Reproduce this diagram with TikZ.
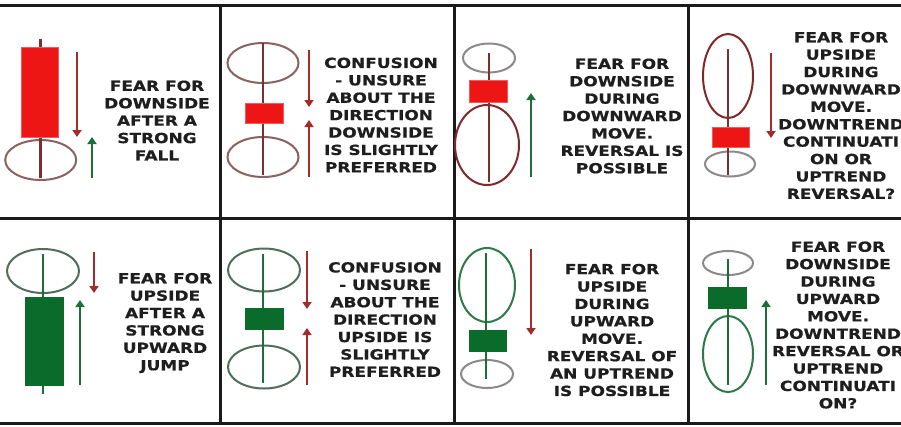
\documentclass[tikz,border=0pt]{standalone}
\usepackage{fontspec}
\newfontfamily\lab{DejaVu Sans}[FakeStretch=1.22, FakeBold=0.6]
\usetikzlibrary{arrows.meta}
\definecolor{gridc}{HTML}{1A1A1A}
\definecolor{redbodyc}{HTML}{EE1515}
\definecolor{rededge}{HTML}{F25A5A}
\definecolor{greenbodyc}{HTML}{0B6B2A}
\definecolor{redwickc}{HTML}{7B3030}
\definecolor{greenwickc}{HTML}{1F6B3A}
\definecolor{ellbrown}{HTML}{8A6262}
\definecolor{elldark}{HTML}{7E2A2A}
\definecolor{ellgray}{HTML}{8E8888}
\definecolor{ellgreen}{HTML}{2E7A48}
\definecolor{ellgreengray}{HTML}{4E6E5A}
\definecolor{arrred}{HTML}{A52A2A}
\definecolor{arrgreen}{HTML}{1E6E38}
\definecolor{txt}{HTML}{1E1E1E}
\tikzset{
  gridline/.style={draw=gridc, line width=3pt},
  redbody/.style={fill=redbodyc, draw=rededge, line width=0.8pt},
  greenbody/.style={fill=greenbodyc, draw=greenbodyc, line width=0.8pt},
  redwick/.style={draw=redwickc, line width=2.8pt},
  greenwick/.style={draw=greenwickc, line width=2.8pt},
  ellline/.style={line width=2pt},
  arrowline/.style={line width=2.6pt, -{Triangle[width=9pt,length=7pt]}},
  arrr/.style={arrowline, draw=arrred, fill=arrred},
  arrg/.style={arrowline, draw=arrgreen, fill=arrgreen},
  label/.style={font=\lab\bfseries\fontsize{13.9}{17.4}\selectfont, align=center, text=txt, inner sep=0pt}
}
\begin{document}
\begin{tikzpicture}[x=1pt, y=-1pt]
\useasboundingbox (0,0) rectangle (901,426);
\fill[white] (0,0) rectangle (901,426);
\clip (0,0) rectangle (901,426);

% grid
\draw[gridline] (0,5) -- (901,5);
\draw[gridline] (0,218) -- (901,218);
\draw[gridline] (0,423) -- (901,423);
\draw[gridline] (220.5,5) -- (220.5,423);
\draw[gridline] (454,5) -- (454,423);
\draw[gridline] (688,5) -- (688,423);

% ---------- cell 1 ----------
\draw[ellline, draw=ellbrown] (40.7,160) ellipse [x radius=35.5, y radius=20];
\draw[redwick] (40.7,39) -- (40.7,178);
\draw[redbody] (21,47) rectangle (58,137);
\coordinate (a1s) at (77,52); \coordinate (a1e) at (77,137);
\draw[arrr] (a1s) -- (a1e);
\coordinate (a2s) at (92,178); \coordinate (a2e) at (92,137);
\draw[arrg] (a2s) -- (a2e);
\node[label] (t1) at (157,120.5) {FEAR FOR\\DOWNSIDE\\AFTER A\\STRONG\\FALL};

% ---------- cell 2 ----------
\draw[ellline, draw=ellbrown] (263,63) ellipse [x radius=35.5, y radius=20];
\draw[ellline, draw=ellbrown] (263,157) ellipse [x radius=35.5, y radius=20];
\draw[redwick] (263,43) -- (263,175);
\draw[redbody] (245,103) rectangle (283,123);
\coordinate (b1s) at (309,50); \coordinate (b1e) at (309,107);
\draw[arrr] (b1s) -- (b1e);
\coordinate (b2s) at (309,177); \coordinate (b2e) at (309,120);
\draw[arrr] (b2s) -- (b2e);
\node[label] (t2) at (381,115) {CONFUSION\\- UNSURE\\ABOUT THE\\DIRECTION\\DOWNSIDE\\IS SLIGHTLY\\PREFERRED};

% ---------- cell 3 ----------
\draw[ellline, draw=ellgray] (489,58) ellipse [x radius=26, y radius=14.5];
\draw[ellline, draw=elldark] (487,145) ellipse [x radius=32, y radius=40];
\draw[redwick] (489,53) -- (489,182);
\draw[redbody] (469,80) rectangle (507,102);
\coordinate (c1s) at (531,177); \coordinate (c1e) at (531,93);
\draw[arrg] (c1s) -- (c1e);
\node[label] (t3) at (622,116) {FEAR FOR\\DOWNSIDE\\DURING\\DOWNWARD\\MOVE.\\REVERSAL IS\\POSSIBLE};

% ---------- cell 4 ----------
\draw[ellline, draw=elldark] (728,76) ellipse [x radius=25, y radius=42];
\draw[ellline, draw=ellgray] (730,164) ellipse [x radius=25, y radius=12.5];
\draw[redwick] (728,49) -- (728,175);
\draw[redbody] (712,127) rectangle (749,147);
\coordinate (d1s) at (771,53); \coordinate (d1e) at (771,138);
\draw[arrr] (d1s) -- (d1e);
\node[label] (t4) at (841,115.5) {FEAR FOR\\UPSIDE\\DURING\\DOWNWARD\\MOVE.\\DOWNTREND\\CONTINUATI\\ON OR\\UPTREND\\REVERSAL?};

% ---------- cell 5 ----------
\draw[ellline, draw=ellgreengray] (43,271) ellipse [x radius=36, y radius=22];
\draw[greenwick] (43,254) -- (43,394);
\draw[greenbody] (25,297) rectangle (63,385);
\coordinate (e1s) at (94,252); \coordinate (e1e) at (94,293);
\draw[arrr] (e1s) -- (e1e);
\coordinate (e2s) at (80,385); \coordinate (e2e) at (80,300);
\draw[arrg] (e2s) -- (e2e);
\node[label] (t5) at (165,323) {FEAR FOR\\UPSIDE\\AFTER A\\STRONG\\UPWARD\\JUMP};

% ---------- cell 6 ----------
\draw[ellline, draw=ellgreengray] (264,270) ellipse [x radius=36, y radius=21.5];
\draw[ellline, draw=ellgreengray] (264,367) ellipse [x radius=36, y radius=21.5];
\draw[greenwick] (263,254) -- (263,383);
\draw[greenbody] (245,308) rectangle (283,329);
\coordinate (f1s) at (307,251); \coordinate (f1e) at (307,309);
\draw[arrr] (f1s) -- (f1e);
\coordinate (f2s) at (307,385); \coordinate (f2e) at (307,328);
\draw[arrr] (f2s) -- (f2e);
\node[label] (t6) at (385,319.5) {CONFUSION\\- UNSURE\\ABOUT THE\\DIRECTION\\UPSIDE IS\\SLIGHTLY\\PREFERRED};

% ---------- cell 7 ----------
\draw[ellline, draw=ellgreen] (487,285) ellipse [x radius=28, y radius=37];
\draw[ellline, draw=ellgray] (487,374) ellipse [x radius=26, y radius=14];
\draw[greenwick] (486,253) -- (486,379);
\draw[greenbody] (469,330) rectangle (506,351);
\coordinate (g1s) at (531,249); \coordinate (g1e) at (531,335);
\draw[arrr] (g1s) -- (g1e);
\node[label] (t7) at (612,330) {FEAR FOR\\UPSIDE\\DURING\\UPWARD\\MOVE.\\REVERSAL OF\\AN UPTREND\\IS POSSIBLE};

% ---------- cell 8 ----------
\draw[ellline, draw=ellgray] (728,263) ellipse [x radius=25, y radius=12];
\draw[ellline, draw=ellgreen] (728,354) ellipse [x radius=25, y radius=38];
\draw[greenwick] (728,259) -- (728,385);
\draw[greenbody] (708,287) rectangle (746,308);
\coordinate (h1s) at (766,385); \coordinate (h1e) at (766,300);
\draw[arrg] (h1s) -- (h1e);
\node[label] (t8) at (838,325) {FEAR FOR\\DOWNSIDE\\DURING\\UPWARD\\MOVE.\\DOWNTREND\\REVERSAL OR\\UPTREND\\CONTINUATI\\ON?};
\end{tikzpicture}
\end{document}
